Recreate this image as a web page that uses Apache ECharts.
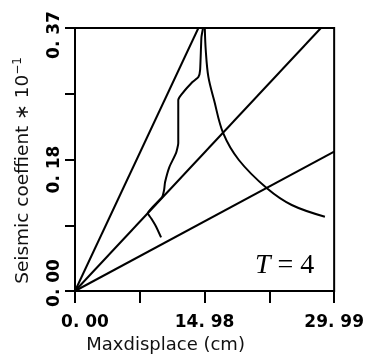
<!DOCTYPE html>
<html><head><meta charset="utf-8">
<script src="https://cdn.jsdelivr.net/npm/echarts@6/dist/echarts.min.js"></script>
<style>html,body{margin:0;padding:0;background:#fff}#c{width:367px;height:360px}</style>
</head><body><div id="c"></div>
<script>
const xMin = 0, xMax = 29.99, yMin = 0, yMax = 0.37;
const xTickLabels = ['0. 00', '', '14. 98', '', '29. 99'];
const yTickLabels = ['0. 00', '', '0. 18', '', '0. 37'];
const xTitle = 'Maxdisplace (cm)';
const yTitle = 'Seismic coeffient \u2217 10';
const yTitleSup = '\u22121';
const annotation = ['T', ' = 4'];

const line1X = [0, 14.28];
const line1Y = [0, 0.37];
const line2X = [0, 28.46];
const line2Y = [0, 0.37];
const line3X = [0, 29.99];
const line3Y = [0, 0.196];

const curveX = [15.02, 15.13, 15.43, 16.09, 17.15, 18.96, 22.21, 25.08, 28.92];
const curveY = [0.370, 0.339, 0.3015, 0.2687, 0.222, 0.1843, 0.1445, 0.121, 0.1045];

const pathX = [14.82, 14.63, 14.48, 14.28, 13.59, 12.26, 11.95, 11.95, 11.69, 10.92, 10.42, 10.31, 10.08, 8.42, 8.81, 9.39, 9.96];
const pathY = [0.370, 0.357, 0.311, 0.301, 0.294, 0.2757, 0.2687, 0.208, 0.194, 0.1744, 0.153, 0.142, 0.132, 0.1093, 0.1023, 0.0905, 0.0755];

const zip = (a, b) => a.map((v, i) => [v, b[i]]);
const lbl = { fontFamily: 'DejaVu Sans', fontWeight: 'bold', fontSize: 17, color: '#000' };

function mk(name, xs, ys, smooth) {
  return { name, type: 'line', data: zip(xs, ys), symbol: 'none', smooth: smooth || false,
    lineStyle: { color: '#000', width: 2 }, silent: true, animation: false };
}

const chart = echarts.init(document.getElementById('c'), null, { renderer: 'canvas' });
chart.setOption({
  backgroundColor: '#fff',
  animation: false,
  grid: { left: 75, right: 31, top: 28, bottom: 69, show: true, borderColor: '#000', borderWidth: 2, backgroundColor: 'transparent' },
  xAxis: {
    type: 'value', min: xMin, max: xMax, interval: (xMax - xMin) / 4,
    splitLine: { show: false },
    axisLine: { lineStyle: { color: '#000', width: 2 } },
    axisTick: { inside: false, length: 12, lineStyle: { color: '#000', width: 2 } },
    axisLabel: {
      margin: 23, ...lbl,
      formatter: (v, i) => xTickLabels[i] ? '{x' + i + '|' + xTickLabels[i] + '}' : '',
      rich: { x0: { ...lbl, padding: [0, 0, 0, 20] }, x2: { ...lbl }, x4: { ...lbl } }
    },
    name: xTitle, nameLocation: 'middle', nameGap: 38,
    nameTextStyle: { fontFamily: 'DejaVu Sans', fontSize: 18, color: '#111', padding: [0, 78, 0, 0] }
  },
  yAxis: {
    type: 'value', min: yMin, max: yMax, interval: (yMax - yMin) / 4,
    splitLine: { show: false },
    axisLine: { lineStyle: { color: '#000', width: 2 } },
    axisTick: { inside: false, length: 10, lineStyle: { color: '#000', width: 2 } },
    axisLabel: {
      rotate: 90, margin: 12, ...lbl,
      formatter: (v, i) => yTickLabels[i] ? '{y' + i + '|' + yTickLabels[i] + '}' : '',
      rich: { y0: { ...lbl, padding: [0, 0, 0, 16] }, y2: { ...lbl, padding: [0, 20, 0, 0] }, y4: { ...lbl, padding: [0, 14, 0, 0] } }
    },
    name: yTitle + '{sup|' + yTitleSup + '}', nameLocation: 'middle', nameRotate: 90, nameGap: 41,
    nameTextStyle: {
      fontFamily: 'DejaVu Sans', fontSize: 18.5, color: '#111', lineHeight: 22, padding: [0, 22, 0, 0],
      rich: { sup: { fontFamily: 'DejaVu Sans', fontSize: 12, color: '#111', verticalAlign: 'top', lineHeight: 12 } }
    }
  },
  series: [
    mk('line1', line1X, line1Y),
    mk('line2', line2X, line2Y),
    mk('line3', line3X, line3Y),
    mk('curve', curveX, curveY, 0.35),
    mk('path', pathX, pathY, 0.15)
  ],
  graphic: [{
    type: 'text', left: 255, top: 252,
    style: {
      text: '{i|' + annotation[0] + '}{n|' + annotation[1] + '}',
      rich: {
        i: { fontFamily: 'Liberation Serif', fontStyle: 'italic', fontSize: 28, fill: '#000' },
        n: { fontFamily: 'Liberation Serif', fontSize: 28, fill: '#000' }
      }
    }
  }]
});
</script></body></html>
